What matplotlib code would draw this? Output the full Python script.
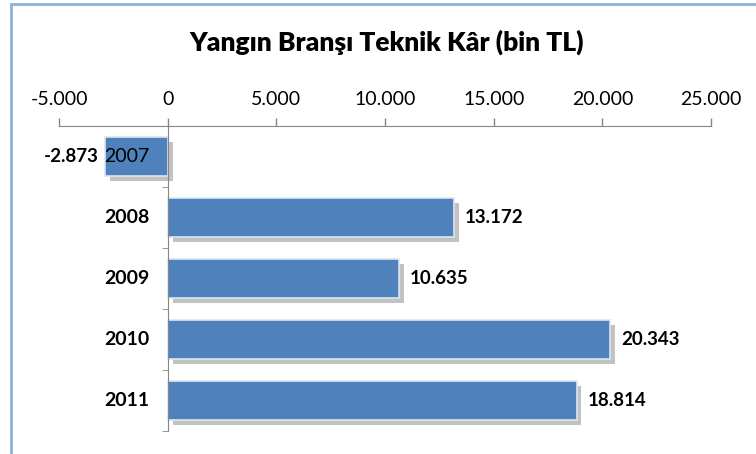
import matplotlib
matplotlib.use("Agg")
import matplotlib.pyplot as plt
import matplotlib.patheffects as pe
from matplotlib.patches import Rectangle
from matplotlib.ticker import FuncFormatter, FixedLocator
import matplotlib.transforms as mtrans

years = ["2007", "2008", "2009", "2010", "2011"]
values = [-2873, 13172, 10635, 20343, 18814]
value_labels = ["-2.873", "13.172", "10.635", "20.343", "18.814"]
xticks = [-5000, 0, 5000, 10000, 15000, 20000, 25000]
title = "Yangın Branşı Teknik Kâr (bin TL)"

plt.rcParams['font.family'] = ['Lato', 'DejaVu Sans']

fig = plt.figure(figsize=(7.56, 4.54), dpi=100)
ax = fig.add_axes([59/756, 23/454, (711-59)/756, (431-126)/454])

ypos = list(range(len(years)))
bars = ax.barh(ypos, values, height=0.65, color="#4F81BD", edgecolor="#DCE6F2",
               linewidth=1.2, zorder=2)
for b in bars:
    b.set_path_effects([pe.SimplePatchShadow(offset=(3.5, -3.5), shadow_rgbFace="#9a9a9a", alpha=0.6),
                        pe.Normal()])

ax.set_xlim(-5000, 25000)
ax.set_ylim(len(years) - 0.5, -0.5)

ax.xaxis.tick_top()
ax.set_xticks(xticks)
ax.xaxis.set_major_formatter(FuncFormatter(lambda v, p: f"{int(v):,}".replace(",", ".")))
ax.tick_params(axis='x', direction='out', length=6, width=1, color="#868686",
               labelsize=14, pad=7)

for s in ['bottom', 'right']:
    ax.spines[s].set_visible(False)
ax.spines['top'].set_color("#868686")
ax.spines['left'].set_color("#868686")
ax.spines['left'].set_position(('data', 0))

ax.set_yticks(ypos)
ax.set_yticklabels([])
ax.yaxis.set_minor_locator(FixedLocator([i + 0.5 for i in ypos]))
ax.tick_params(axis='y', which='major', length=0)
ax.tick_params(axis='y', which='minor', length=4, color="#868686", direction='out')

cat_off = mtrans.offset_copy(ax.transData, fig=fig, x=-18, y=0, units='dots')
for i, yr in enumerate(years):
    ax.text(0, i, yr, transform=cat_off, ha='right', va='center', fontsize=14,
            fontweight='normal' if values[i] < 0 else 'bold', zorder=5)

for i, (v, lab) in enumerate(zip(values, value_labels)):
    if v >= 0:
        off = mtrans.offset_copy(ax.transData, fig=fig, x=11, y=0, units='dots')
        ax.text(v, i, lab, transform=off, ha='left', va='center', fontsize=13.5, fontweight='bold')
    else:
        off = mtrans.offset_copy(ax.transData, fig=fig, x=-6, y=0, units='dots')
        ax.text(v, i, lab, transform=off, ha='right', va='center', fontsize=13.5, fontweight='bold')

fig.text(387/756, 1 - 42/454, title, ha='center', va='center', fontsize=19, fontweight='heavy')

fig.patches.append(Rectangle((11/756, -0.1), 1.2, 1 - 4/454 + 0.1, transform=fig.transFigure,
                             fill=False, edgecolor="#8DB0DD", linewidth=2, zorder=0))

fig.savefig("out.png", dpi=100)
